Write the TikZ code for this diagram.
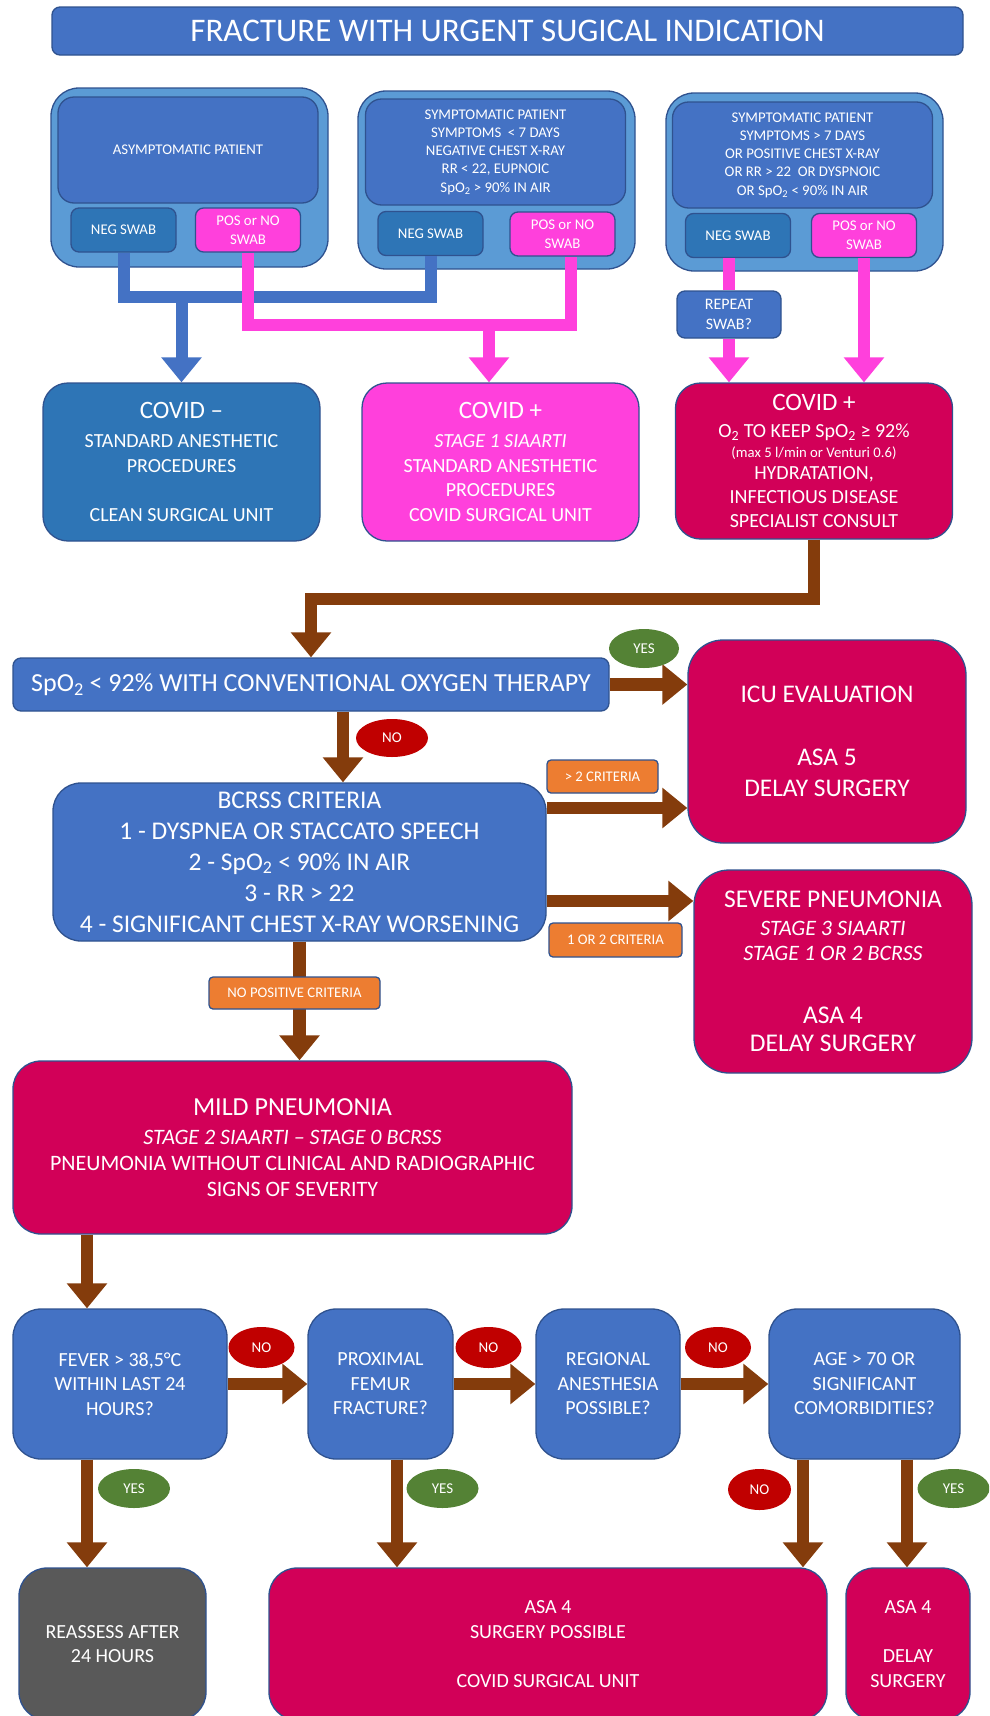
\documentclass[tikz,border=0pt]{standalone}
\usepackage{fontspec}
\setmainfont{Carlito}
\usetikzlibrary{arrows.meta,shapes.geometric}

\definecolor{boxblue}{HTML}{4472C4}
\definecolor{paleblue}{HTML}{5B9BD5}
\definecolor{deepblue}{HTML}{2E75B6}
\definecolor{edgeblue}{HTML}{2F528F}
\definecolor{swabpink}{HTML}{FF40DC}
\definecolor{covidred}{HTML}{D20058}
\definecolor{flowbrown}{HTML}{843C0C}
\definecolor{yesgreen}{HTML}{548235}
\definecolor{nored}{HTML}{C00000}
\definecolor{tagorange}{HTML}{ED7D31}
\definecolor{waitgray}{HTML}{595959}

\newcommand{\boxfont}[2]{\fontsize{#1}{#2}\selectfont}

\begin{document}
\begin{tikzpicture}[x=1pt,y=-1pt,
  blockbox/.style={draw=edgeblue,line width=1.3pt,text=white,align=center,inner sep=0pt},
  grp/.style={blockbox,fill=paleblue,rounded corners=28pt,minimum width=277pt},
  pat/.style={blockbox,fill=boxblue,rounded corners=16pt,minimum width=260pt,minimum height=106pt,font=\boxfont{14.8}{18.3}},
  negswab/.style={blockbox,fill=deepblue,rounded corners=8pt,minimum width=105pt,minimum height=44pt,font=\boxfont{14.8}{19}},
  posswab/.style={negswab,fill=swabpink},
  result/.style={blockbox,rounded corners=25pt,minimum width=277pt,minimum height=158pt,font=\boxfont{20}{24.5}},
  quest/.style={blockbox,fill=boxblue,rounded corners=28pt,minimum height=150pt,font=\boxfont{20}{24.5}},
  outcome/.style={blockbox,rounded corners=28pt,minimum height=152pt,font=\boxfont{20}{24.5}},
  tag/.style={blockbox,fill=tagorange,rounded corners=4pt,font=\boxfont{14.7}{17}},
  yesmark/.style={ellipse,fill=yesgreen,text=white,inner sep=0pt,minimum width=72pt,minimum height=39pt,font=\boxfont{15}{17}},
  nomark/.style={ellipse,fill=nored,text=white,inner sep=0pt,minimum width=66pt,minimum height=41pt,font=\boxfont{15}{17}},
  bluelink/.style={draw=boxblue,line width=12pt},
  pinklink/.style={draw=swabpink,line width=12pt},
  brownlink/.style={draw=flowbrown,line width=12.5pt},
  bigtip/.style={-{Triangle[width=39pt,length=25pt]}}]
\useasboundingbox (0,0) rectangle (989,1716);
\clip (0,0) rectangle (989,1716);

\node[blockbox,fill=boxblue,rounded corners=8pt,minimum width=911pt,minimum height=48pt,font=\boxfont{33}{40}] (title) at (507.5,31) {FRACTURE WITH URGENT SUGICAL INDICATION};

% patient groups
\node[grp,minimum height=179pt] (g1) at (189.5,177.5) {};
\node[grp,minimum height=178pt] (g2) at (496.5,180) {};
\node[grp,minimum height=178pt] (g3) at (804.5,182) {};
\node[pat] (p1) at (188,150) {ASYMPTOMATIC PATIENT};
\node[pat] (p2) at (495.5,152) {SYMPTOMATIC PATIENT\\SYMPTOMS\ \ < 7 DAYS\\NEGATIVE CHEST X-RAY\\RR < 22, EUPNOIC\\SpO\textsubscript{2} > 90\% IN AIR};
\node[pat] (p3) at (802.5,155) {SYMPTOMATIC PATIENT\\SYMPTOMS > 7 DAYS\\OR POSITIVE CHEST X-RAY\\OR RR > 22\ \ OR DYSPNOIC\\OR SpO\textsubscript{2} < 90\% IN AIR};
\node[negswab] (n1) at (123.5,230) {NEG SWAB};
\node[posswab] (s1) at (248,230) {POS or NO\\SWAB};
\node[negswab] (n2) at (430.5,233.5) {NEG SWAB};
\node[posswab] (s2) at (562.5,234) {POS or NO\\SWAB};
\node[negswab] (n3) at (738,235.5) {NEG SWAB};
\node[posswab] (s3) at (864,235.5) {POS or NO\\SWAB};
\node[blockbox,fill=boxblue,rounded corners=8pt,minimum width=104pt,minimum height=47pt,font=\boxfont{16}{20}] (rep) at (729,314.5) {REPEAT\\SWAB?};

% first results
\node[result,fill=deepblue] (covneg) at (181.5,462) {{\boxfont{25}{30}COVID –}\\[4.5pt]STANDARD ANESTHETIC\\PROCEDURES\\[24.5pt]CLEAN SURGICAL UNIT};
\node[result,fill=swabpink] (covpos) at (500.5,462) {{\boxfont{25}{30}COVID +}\\[4.5pt]\textit{STAGE 1 SIAARTI}\\STANDARD ANESTHETIC\\PROCEDURES\\COVID SURGICAL UNIT};
\node[result,fill=covidred,minimum height=156pt,font=\boxfont{20}{24}] (covcrit) at (814,461) {{\boxfont{25}{30}COVID +}\\[3pt]O\textsubscript{2} TO KEEP SpO\textsubscript{2} ≥ 92\%\\[-4pt]{\boxfont{14.7}{18}(max 5 l/min or Venturi 0.6)}\\[-2pt]HYDRATATION,\\INFECTIOUS DISEASE\\SPECIALIST CONSULT};

% severity
\node[blockbox,fill=boxblue,rounded corners=8pt,minimum width=596pt,minimum height=53pt,font=\boxfont{26}{30}] (spo) at (311,684.5) {SpO\textsubscript{2} < 92\% WITH CONVENTIONAL OXYGEN THERAPY};
\node[blockbox,fill=covidred,rounded corners=35pt,minimum width=278pt,minimum height=203pt,font=\boxfont{25.4}{31}] (icu) at (827,741.5) {ICU EVALUATION\\[32pt]ASA 5\\DELAY SURGERY};
\node[blockbox,fill=boxblue,rounded corners=28pt,minimum width=493pt,minimum height=158pt,font=\boxfont{25.5}{31}] (bcrss) at (299.5,862) {BCRSS CRITERIA\\1 - DYSPNEA OR STACCATO SPEECH\\2 - SpO\textsubscript{2} < 90\% IN AIR\\3 - RR > 22\\4 - SIGNIFICANT CHEST X-RAY WORSENING};
\node[blockbox,fill=covidred,rounded corners=35pt,minimum width=278pt,minimum height=203pt,font=\boxfont{25.5}{28}] (severe) at (833,971.5) {SEVERE PNEUMONIA\\\textit{\boxfont{22}{25}STAGE 3 SIAARTI}\\[-3pt]\textit{\boxfont{22}{25}STAGE 1 OR 2 BCRSS}\\[35pt]ASA 4\\DELAY SURGERY};
\node[blockbox,fill=covidred,rounded corners=28pt,minimum width=559pt,minimum height=173pt,font=\boxfont{22}{26}] (mild) at (292.5,1147.5) {{\boxfont{26}{30}MILD PNEUMONIA}\\[3pt]\textit{STAGE 2 SIAARTI – STAGE 0 BCRSS}\\PNEUMONIA WITHOUT CLINICAL AND RADIOGRAPHIC\\SIGNS OF SEVERITY};

% questions
\node[quest,minimum width=214pt] (fever) at (120,1384) {FEVER > 38,5°C\\WITHIN LAST 24\\HOURS?};
\node[quest,minimum width=145pt] (femur) at (380.5,1384) {PROXIMAL\\FEMUR\\FRACTURE?};
\node[quest,minimum width=144pt] (regional) at (608,1384) {REGIONAL\\ANESTHESIA\\POSSIBLE?};
\node[quest,minimum width=191pt] (age) at (864.5,1384) {AGE > 70 OR\\SIGNIFICANT\\COMORBIDITIES?};

\node[outcome,fill=waitgray,minimum width=187pt] (reassess) at (112.5,1644) {REASSESS AFTER\\24 HOURS};
\node[outcome,fill=covidred,minimum width=558pt] (asa) at (548,1644) {ASA 4\\SURGERY POSSIBLE\\[24.5pt]COVID SURGICAL UNIT};
\node[outcome,fill=covidred,minimum width=124pt] (delay) at (908,1644) {ASA 4\\[24.5pt]DELAY\\SURGERY};

% connectors
\coordinate (bluejoin) at (181.5,297);
\coordinate (pinkjoin) at (489,325);
\coordinate (s2foot) at ([xshift=8.5pt]s2.south);
\coordinate (bend) at (311,599);
\coordinate (spodown) at ([xshift=32pt]spo.south);
\coordinate (toicu) at ([yshift=54pt]bcrss.east);
\coordinate (tosevere) at ([yshift=-39pt]bcrss.east);
\coordinate (col1) at (87,0);
\coordinate (col2) at (397,0);
\coordinate (col3) at (803,0);
\coordinate (col4) at (907,0);

\draw[bluelink] (n1.south) |- (n2.south |- bluejoin) -- (n2.south);
\draw[bluelink,bigtip] (bluejoin) -- (covneg.north);
\draw[pinklink] (s1.south) |- (s2foot |- pinkjoin) -- (s2foot);
\draw[pinklink,bigtip] (pinkjoin) -- (pinkjoin |- covpos.north);
\draw[pinklink] (n3.south -| rep.north) -- (rep.north);
\draw[pinklink,bigtip] (rep.south) -- (rep.south |- covcrit.north);
\draw[pinklink,bigtip] (s3.south) -- (s3.south |- covcrit.north);

\draw[brownlink,bigtip] (covcrit.south) |- (bend) -- (spo.north);
\draw[brownlink,bigtip] (spo.east) -- (spo.east -| icu.west);
\draw[brownlink,bigtip] (spodown) -- (spodown |- bcrss.north);
\draw[brownlink,bigtip] (toicu) -- (toicu -| icu.west);
\draw[brownlink,bigtip] (tosevere) -- (tosevere -| severe.west);
\draw[brownlink,bigtip] (bcrss.south) -- (bcrss.south |- mild.north);
\draw[brownlink,bigtip] (col1 |- mild.south) -- (col1 |- fever.north);
\draw[brownlink,bigtip] (fever.east) -- (femur.west);
\draw[brownlink,bigtip] (femur.east) -- (regional.west);
\draw[brownlink,bigtip] (regional.east) -- (age.west);
\draw[brownlink,bigtip] (col1 |- fever.south) -- (col1 |- reassess.north);
\draw[brownlink,bigtip] (col2 |- femur.south) -- (col2 |- asa.north);
\draw[brownlink,bigtip] (col3 |- age.south) -- (col3 |- asa.north);
\draw[brownlink,bigtip] (col4 |- age.south) -- (col4 |- delay.north);

% answers
\node[yesmark,minimum width=70pt] (yesicu) at (644,648.5) {YES};
\node[nomark,minimum width=72pt,minimum height=38pt] (nobcrss) at (392,738) {NO};
\node[tag,minimum width=111pt,minimum height=33pt] (crit2plus) at (602.5,776.5) {> 2 CRITERIA};
\node[tag,minimum width=133pt,minimum height=34pt] (crit12) at (615.5,940) {1 OR 2 CRITERIA};
\node[tag,minimum width=171pt,minimum height=32pt] (critnone) at (294.5,993) {NO POSITIVE CRITERIA};
\node[nomark] (nofever) at (261.5,1347.5) {NO};
\node[nomark] (nofemur) at (488.5,1347.5) {NO};
\node[nomark] (noregional) at (718,1347.5) {NO};
\node[yesmark] (yesfever) at (134,1488.5) {YES};
\node[yesmark] (yesfemur) at (442.5,1488.5) {YES};
\node[nomark,minimum width=63pt] (noage) at (759.5,1489.5) {NO};
\node[yesmark] (yesage) at (953.5,1488.5) {YES};
\end{tikzpicture}
\end{document}
